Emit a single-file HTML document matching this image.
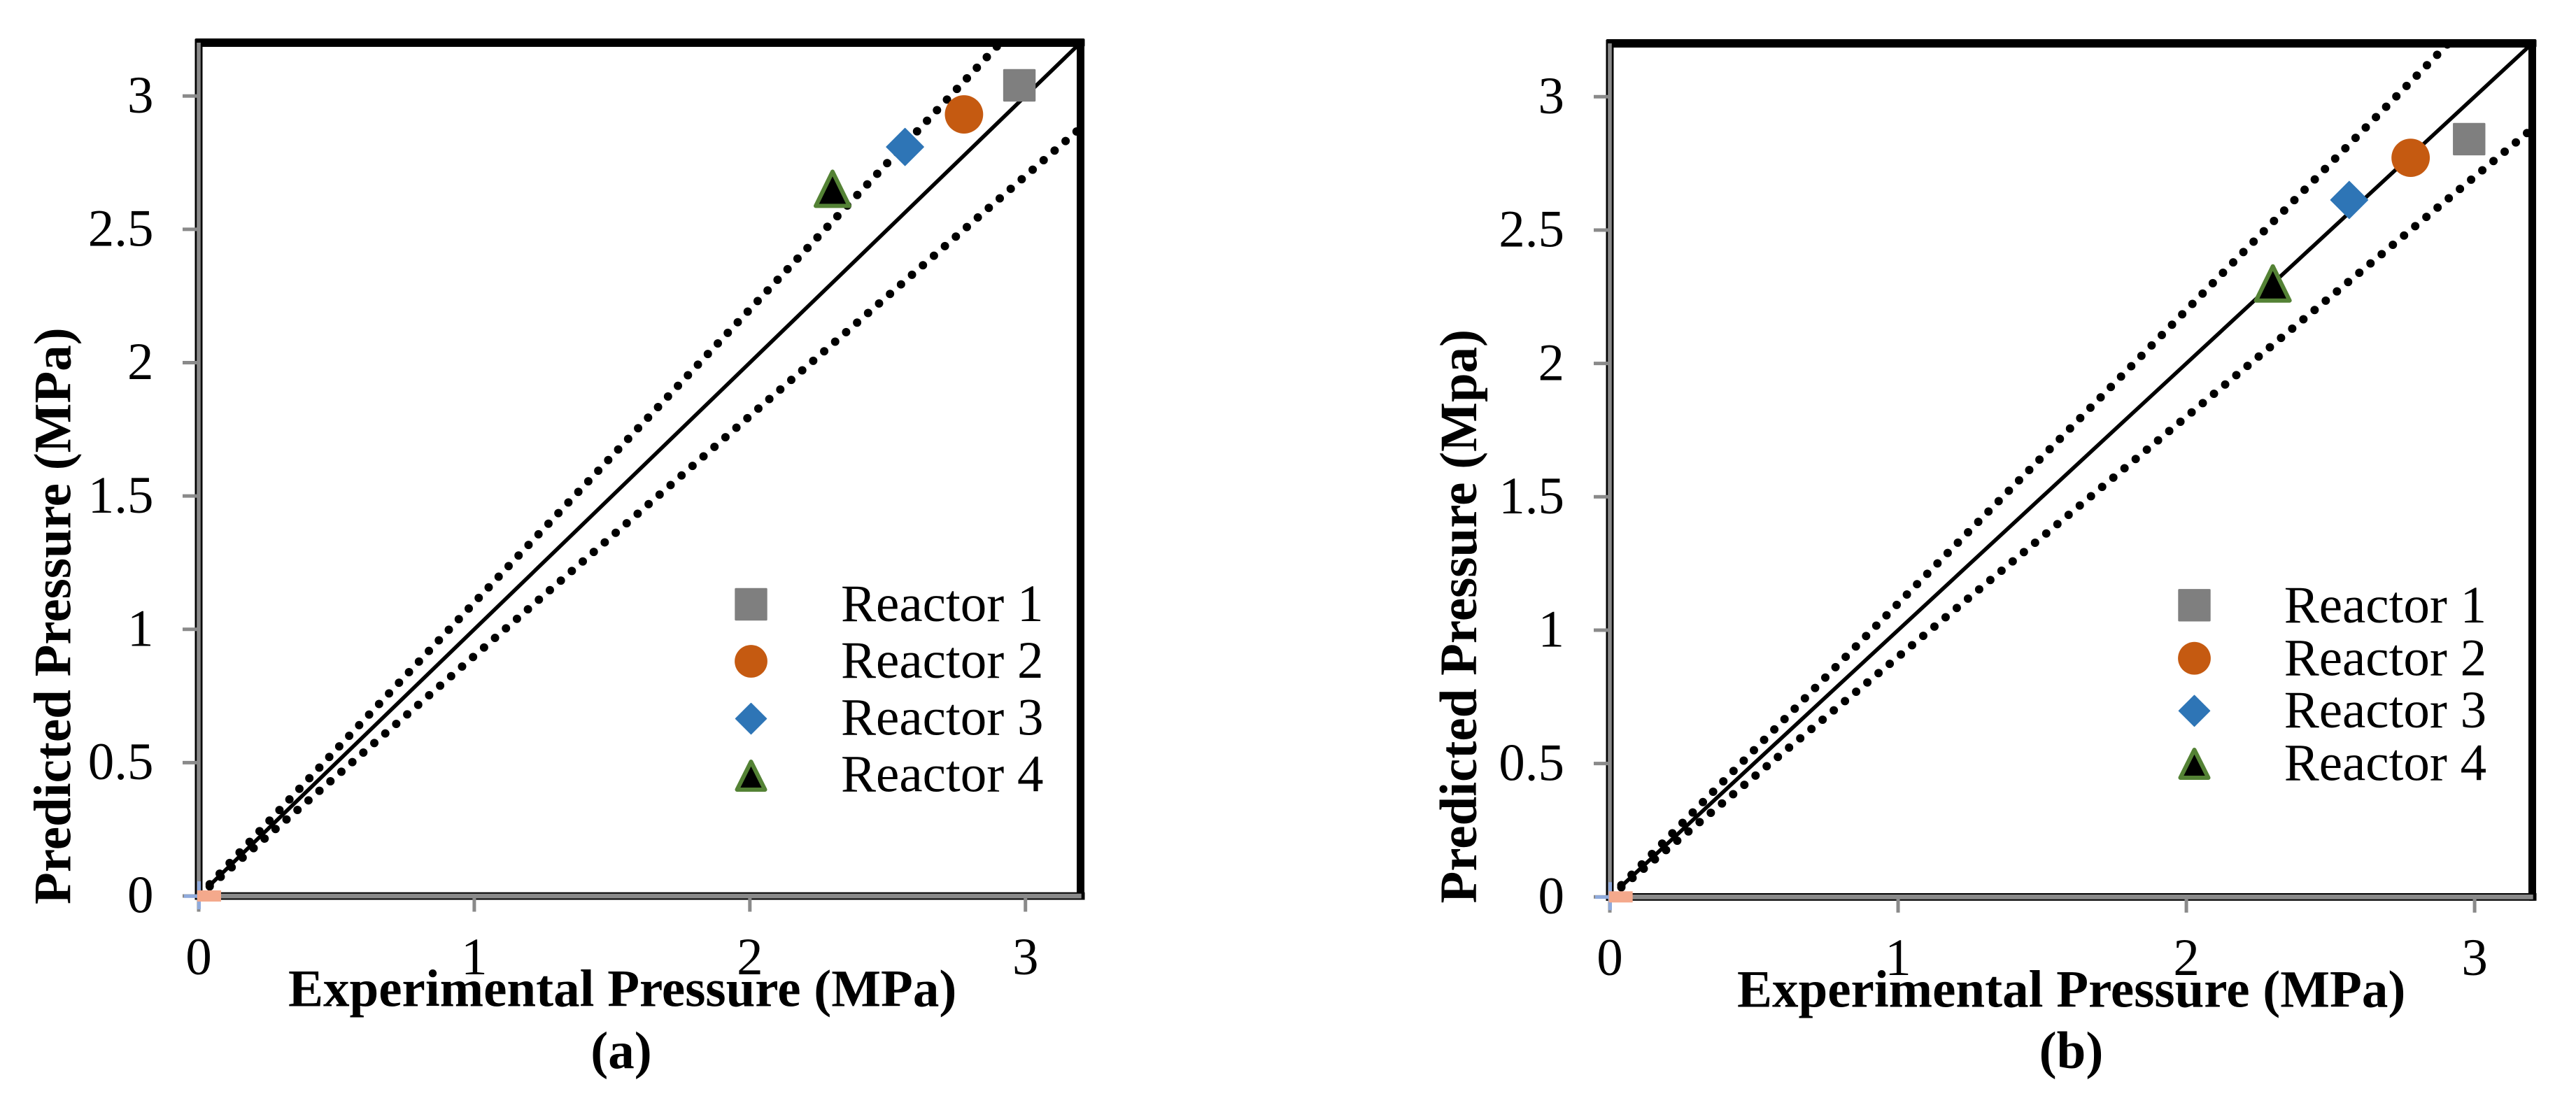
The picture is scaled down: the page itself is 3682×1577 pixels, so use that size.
<!DOCTYPE html>
<html lang="en">
<head>
<meta charset="utf-8">
<title>Predicted vs Experimental Pressure</title>
<style>
html,body{margin:0;padding:0;background:#fff;}
svg{display:block;}
text{font-family:"Liberation Serif","Times New Roman",serif;font-size:75px;fill:#000;}
.bold{font-weight:bold;}
</style>
</head>
<body>
<svg id="figure" xmlns="http://www.w3.org/2000/svg" width="3682" height="1577" viewBox="0 0 3682 1577">
  <rect x="0" y="0" width="3682" height="1577" fill="#fff"/>
  <defs>
    <clipPath id="clip-a"><rect x="284" y="61" width="1260.5" height="1220"/></clipPath>
    <clipPath id="clip-b"><rect x="2301" y="62" width="1318.5" height="1220.3"/></clipPath>
  </defs>

  <g id="panel-a">
    <g id="panel-a-plot"></g>
    <text class="bold" transform="translate(100.7,1293) rotate(-90)">Predicted Pressure (MPa)</text>
    <text class="bold" x="412" y="1438.3">Experimental Pressure (MPa)</text>
    <text class="bold" x="888" y="1527" text-anchor="middle">(a)</text>
    <g>
      <text x="1202" y="888">Reactor 1</text>
      <text x="1202" y="969">Reactor 2</text>
      <text x="1202" y="1050.5">Reactor 3</text>
      <text x="1202" y="1131.7">Reactor 4</text>
    </g>
  </g>

  <g id="panel-b">
    <g id="panel-b-plot"></g>
    <text class="bold" transform="translate(2110,1291.5) rotate(-90)">Predicted Pressure (Mpa)</text>
    <text class="bold" x="2483" y="1439.3">Experimental Pressure (MPa)</text>
    <text class="bold" x="2960.5" y="1527" text-anchor="middle">(b)</text>
    <g>
      <text x="3264.7" y="890">Reactor 1</text>
      <text x="3264.7" y="965.3">Reactor 2</text>
      <text x="3264.7" y="1040">Reactor 3</text>
      <text x="3264.7" y="1115.3">Reactor 4</text>
    </g>
  </g>
</svg>

<script>
// ---- chart data -------------------------------------------------------
const xTickValues = [0, 1, 2, 3];
const xTickLabels = ['0', '1', '2', '3'];
const yTickValues = [0, 0.5, 1, 1.5, 2, 2.5, 3];
const yTickLabels = ['0', '0.5', '1', '1.5', '2', '2.5', '3'];
const xAxisMax = 3.2;
const yAxisMax = 3.2;

const reactorNames = ['reactor-1', 'reactor-2', 'reactor-3', 'reactor-4'];

const panelAExperimental = [2.978, 2.777, 2.563, 2.30];
const panelAPredicted = [3.04, 2.931, 2.809, 2.652];

const panelBExperimental = [2.981, 2.778, 2.565, 2.30];
const panelBPredicted = [2.841, 2.771, 2.613, 2.30];

const refLineX = [0.04, 3.2];
const parityLineY = [0.04, 3.2];
const upperBoundY = [0.044, 3.52];
const lowerBoundY = [0.036, 2.88];

const originSeriesX = 0.038;
const originSeriesY = 0;

// ---- drawing ----------------------------------------------------------
const SVG_NS = 'http://www.w3.org/2000/svg';
const GREY = '#8a8a8a';
const MARK_GREY = '#7f7f7f';
const ORANGE = '#c55a11';
const BLUE = '#2e75b6';
const GREEN = '#548235';

function make(tag, attrs, parent) {
  const node = document.createElementNS(SVG_NS, tag);
  for (const key in attrs) node.setAttribute(key, attrs[key]);
  parent.appendChild(node);
  return node;
}

function drawMarker(index, cx, cy, big, parent, prefix) {
  const name = prefix + '-' + reactorNames[index];
  let node;
  if (index === 0) {
    const s = 46.4;
    node = make('rect', {x: cx - s / 2, y: cy - s / 2, width: s, height: s, rx: 1.5, fill: MARK_GREY}, parent);
  } else if (index === 1) {
    const r = big ? 27.4 : 23.4;
    node = make('circle', {cx: cx, cy: cy, r: r, fill: ORANGE}, parent);
  } else if (index === 2) {
    const r = big ? 26.5 : 22;
    node = make('path', {d: 'M' + cx + ' ' + (cy - r) + 'L' + (cx + r) + ' ' + cy + 'L' + cx + ' ' + (cy + r) + 'L' + (cx - r) + ' ' + cy + 'Z', fill: BLUE, stroke: BLUE, 'stroke-width': 1.5, 'stroke-linejoin': 'round'}, parent);
  } else {
    const w = big ? 24 : 20;
    const h = big ? 24.5 : 20;
    node = make('path', {d: 'M' + cx + ' ' + (cy - h) + 'L' + (cx + w) + ' ' + (cy + h) + 'L' + (cx - w) + ' ' + (cy + h) + 'Z', fill: '#000', stroke: GREEN, 'stroke-width': 6, 'stroke-linejoin': 'round'}, parent);
  }
  
  
  return node;
}

function drawPanel(cfg) {
  const plot = document.getElementById(cfg.groupId);
  const xScale = v => cfg.left + v * (cfg.right - cfg.left) / xAxisMax;
  const yScale = v => cfg.bottom - v * (cfg.bottom - cfg.top) / yAxisMax;

  // reference lines
  const lineGroup = make('g', {'clip-path': 'url(#' + cfg.clipId + ')'}, plot);
  
  

  const parity = make('line', {x1: xScale(refLineX[0]), y1: yScale(parityLineY[0]), x2: xScale(refLineX[1]), y2: yScale(parityLineY[1]), stroke: '#000', 'stroke-width': 5.5}, lineGroup);
  
  

  const upper = make('line', {x1: xScale(refLineX[0]), y1: yScale(upperBoundY[0]), x2: xScale(refLineX[1]), y2: yScale(upperBoundY[1]), stroke: '#000', 'stroke-width': 12, 'stroke-linecap': 'round', 'stroke-dasharray': '0 ' + cfg.dash}, lineGroup);
  
  

  const lower = make('line', {x1: xScale(refLineX[0]), y1: yScale(lowerBoundY[0]), x2: xScale(refLineX[1]), y2: yScale(lowerBoundY[1]), stroke: '#000', 'stroke-width': 12, 'stroke-linecap': 'round', 'stroke-dasharray': '0 ' + cfg.dash}, lineGroup);
  
  

  // frame
  const L = cfg.left, R = cfg.right, T = cfg.top, B = cfg.bottom;
  const frame = make('g', {}, plot);
  
  
  make('rect', {x: L - 5.5, y: T - 6, width: R - L + 11.5, height: 12, rx: 2, fill: '#000'}, frame);
  make('rect', {x: R - 5.5, y: T - 6, width: 11, height: B - T + 11.5, rx: 2, fill: '#000'}, frame);
  make('rect', {x: L - 5.5, y: T - 5, width: 11, height: B - T + 10.5, fill: '#000'}, frame);
  make('rect', {x: L - 5.5, y: B - 5.3, width: R - L + 11.5, height: 10.8, fill: '#000'}, frame);
  make('rect', {x: L - 2.8, y: T, width: 5.6, height: B - T + 3.5, fill: GREY}, frame);
  make('rect', {x: L - 2.8, y: B - 3.3, width: R - L + 4, height: 6.8, fill: GREY}, frame);

  // ticks
  yTickValues.forEach((v, i) => {
    const tick = make('rect', {x: L - 23, y: yScale(v) - 2.5, width: 20.5, height: 5, fill: GREY}, plot);
    
    
    const label = make('text', {x: cfg.yLabelX, y: yScale(v) + 23.7, 'text-anchor': 'end'}, plot);
    label.textContent = yTickLabels[i];
    
    
  });
  xTickValues.forEach((v, i) => {
    const tick = make('rect', {x: xScale(v) - 2.5, y: B + 3, width: 5, height: 19.5, fill: GREY}, plot);
    
    
    const label = make('text', {x: xScale(v), y: cfg.xLabelY, 'text-anchor': 'middle'}, plot);
    label.textContent = xTickLabels[i];
    
    
  });

  // origin series artefact
  const blueV = make('rect', {x: L - 2, y: B - 21, width: 5, height: 40, fill: '#8faadc'}, plot);
  
  
  const blueH = make('rect', {x: L - 21, y: B - 2.2, width: 19, height: 5, fill: '#8faadc'}, plot);
  
  
  const originMark = make('rect', {x: xScale(originSeriesX) - 17, y: yScale(originSeriesY) - 8, width: 34, height: 16, fill: '#f4a98c'}, plot);
  
  

  // data points
  cfg.experimental.forEach((x, i) => {
    drawMarker(i, xScale(x), yScale(cfg.predicted[i]), i !== 0, plot, 'data-point');
  });

  // legend markers
  cfg.legendY.forEach((y, i) => {
    drawMarker(i, cfg.legendX, y, false, plot, 'legend-marker');
  });
}

drawPanel({
  groupId: 'panel-a-plot', clipId: 'clip-a',
  left: 284, right: 1544.5, top: 61, bottom: 1281,
  yLabelX: 219.5, xLabelY: 1393, dash: 20.8,
  experimental: panelAExperimental, predicted: panelAPredicted,
  legendX: 1073.5, legendY: [864, 945.5, 1027.5, 1109]
});

drawPanel({
  groupId: 'panel-b-plot', clipId: 'clip-b',
  left: 2301, right: 3619.5, top: 62, bottom: 1282.3,
  yLabelX: 2236, xLabelY: 1394, dash: 20.8,
  experimental: panelBExperimental, predicted: panelBPredicted,
  legendX: 3136.5, legendY: [865.3, 941.2, 1016.3, 1092]
});
</script>
</body>
</html>
